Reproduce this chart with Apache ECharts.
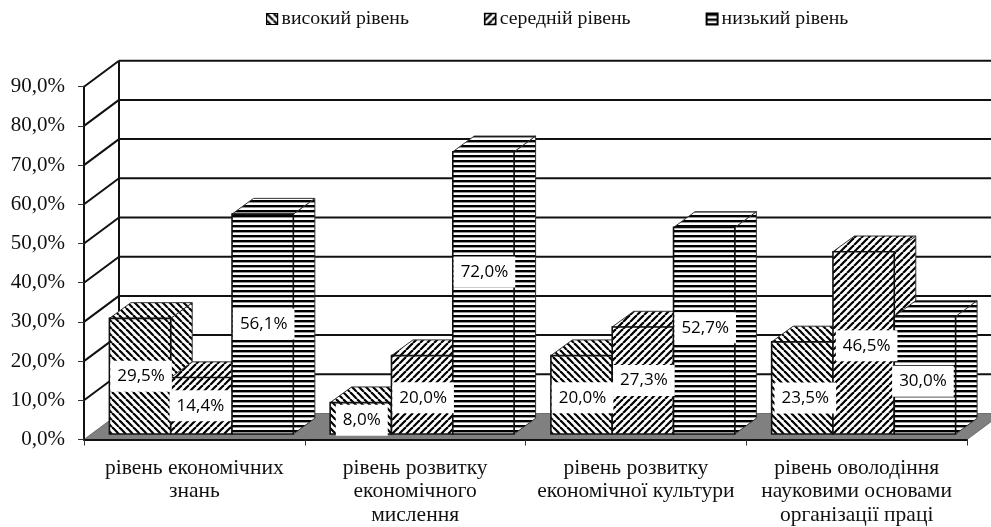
<!DOCTYPE html>
<html>
<head>
<meta charset="utf-8">
<style>html,body{margin:0;padding:0;background:#fff}#c{width:991px;height:527px}</style>
<script src="https://cdn.jsdelivr.net/npm/echarts@6/dist/echarts.min.js"></script>
</head>
<body>
<div id="c"></div>
<script>
var categories = ['рівень економічних\nзнань', 'рівень розвитку\nекономічного\nмислення', 'рівень розвитку\nекономічної культури', 'рівень оволодіння\nнауковими основами\nорганізації праці'];
var seriesNames = ['високий рівень', 'середній рівень', 'низький рівень'];
var highLevel = [29.5, 8.0, 20.0, 23.5];
var midLevel = [14.4, 20.0, 27.3, 46.5];
var lowLevel = [56.1, 72.0, 52.7, 30.0];
var yTicks = [0, 10, 20, 30, 40, 50, 60, 70, 80, 90];

// label nudges in pixels, relative to the centre of each bar's front face
var labelNudgeX = [[1, 1, 1, 3], [-1, 1, 1, 3], [1, 1, 1, -2]];
var labelNudgeY = [[0, 2, 3, 10], [0, 3, 0, 3], [0, -21, -3, 6]];

var WALL_DX = 35, WALL_DY = -26, BAR_DX = 7.4, BAR_DY = -5.5, DEPTH_DX = 21.5, DEPTH_DY = -15.7;
var GAP = 18 / 220.7, BAR_W = 61.3 / 220.7;

function tile(w, h, draw) {
  var c = document.createElement('canvas');
  c.width = w; c.height = h;
  var x = c.getContext('2d');
  x.fillStyle = '#fff'; x.fillRect(0, 0, w, h);
  x.strokeStyle = '#000'; x.fillStyle = '#000';
  draw(x);
  return { image: c, repeat: 'repeat' };
}
function diag(x, dir) {
  x.lineWidth = 2.2;
  for (var k = -7; k <= 14; k += 7) {
    x.beginPath();
    if (dir > 0) { x.moveTo(k, 7); x.lineTo(k + 7, 0); }
    else { x.moveTo(k, 0); x.lineTo(k + 7, 7); }
    x.stroke();
  }
}
var patterns = [
  tile(7, 7, function (x) { diag(x, -1); }),
  tile(7, 7, function (x) { diag(x, 1); }),
  tile(2, 5, function (x) { x.fillRect(0, 0, 2, 2.4); })
];
var LINE = '#111';

function wallItem(params, api) {
  var v = api.value(1);
  var left = api.coord([0, v]);
  var size = api.size([1, 0])[0];
  var x0 = left[0] - size / 2, y = left[1];
  var xEnd = x0 + size * categories.length;
  var kids = [];
  if (v === 0) {
    kids.push({ type: 'polygon', shape: { points: [[x0, y], [xEnd, y], [xEnd + WALL_DX, y + WALL_DY], [x0 + WALL_DX, y + WALL_DY]] },
      style: { fill: '#808080', stroke: '#6e6e6e', lineWidth: 1 } });
  } else {
    kids.push({ type: 'line', shape: { x1: x0, y1: y, x2: x0 + WALL_DX, y2: y + WALL_DY }, style: { stroke: LINE, lineWidth: 2 } });
    kids.push({ type: 'line', shape: { x1: x0 + WALL_DX, y1: y + WALL_DY, x2: xEnd + WALL_DX, y2: y + WALL_DY }, style: { stroke: LINE, lineWidth: 2 } });
  }
  if (v === yTicks[yTicks.length - 1]) {
    var base = api.coord([0, 0])[1];
    kids.push({ type: 'line', shape: { x1: x0 + WALL_DX, y1: y + WALL_DY, x2: x0 + WALL_DX, y2: base + WALL_DY }, style: { stroke: LINE, lineWidth: 2 } });
  }
  return { type: 'group', children: kids };
}

function barGeom(api, j) {
  var i = api.value(0), v = api.value(1);
  var top = api.coord([i, v]), bottom = api.coord([i, 0]);
  var size = api.size([1, 0])[0];
  var w = size * BAR_W;
  var x = top[0] - size / 2 + size * GAP + BAR_DX + j * w;
  return { i: i, x: x, w: w, yt: top[1] + BAR_DY, yb: bottom[1] + BAR_DY };
}

function makeBar(j) {
  return function (params, api) {
    var g = barGeom(api, j);
    var thin = { fill: patterns[j], stroke: '#333', lineWidth: 1, lineJoin: 'miter' };
    var st = { fill: patterns[j], stroke: LINE, lineWidth: 1.6, lineJoin: 'miter' };
    return { type: 'group', children: [
      { type: 'polygon', shape: { points: [[g.x + g.w, g.yt], [g.x + g.w + DEPTH_DX, g.yt + DEPTH_DY], [g.x + g.w + DEPTH_DX, g.yb + DEPTH_DY], [g.x + g.w, g.yb]] }, style: thin },
      { type: 'polygon', shape: { points: [[g.x, g.yt], [g.x + DEPTH_DX, g.yt + DEPTH_DY], [g.x + g.w + DEPTH_DX, g.yt + DEPTH_DY], [g.x + g.w, g.yt]] }, style: thin },
      { type: 'rect', shape: { x: g.x, y: g.yt, width: g.w, height: g.yb - g.yt }, style: st }
    ] };
  };
}

function makeLabel(j) {
  return function (params, api) {
    var g = barGeom(api, j);
    var txt = api.value(1).toFixed(1).replace('.', ',') + '%';
    return { type: 'text', x: g.x + g.w / 2 + labelNudgeX[j][g.i], y: (g.yt + g.yb) / 2 + labelNudgeY[j][g.i],
      style: { text: txt, font: '17px "Open Sans"', fill: '#000', align: 'center', verticalAlign: 'middle',
        backgroundColor: '#fff', padding: [7, 7, 7, 7] } };
  };
}

function rows(arr) { return arr.map(function (v, i) { return [i, v]; }); }
var values = [highLevel, midLevel, lowLevel];
var series = [{ type: 'custom', z: 1, silent: true, clip: false, renderItem: wallItem,
  encode: { x: 0, y: 1 }, data: yTicks.map(function (t) { return [0, t]; }) }];
values.forEach(function (arr, j) {
  series.push({ type: 'custom', name: seriesNames[j], z: 2 + j, silent: true, clip: false, renderItem: makeBar(j),
    encode: { x: 0, y: 1 }, itemStyle: { color: patterns[j], borderColor: '#000', borderWidth: 1 }, data: rows(arr) });
});
values.forEach(function (arr, j) {
  series.push({ type: 'custom', z: 6 + j, silent: true, clip: false, renderItem: makeLabel(j),
    encode: { x: 0, y: 1 }, data: rows(arr) });
});

var legendBorder = [1.2, 1.6, 2];
var chart = echarts.init(document.getElementById('c'), null, { renderer: 'canvas' });
chart.setOption({
  animation: false,
  backgroundColor: '#fff',
  textStyle: { fontFamily: '"Liberation Serif"' },
  legend: {
    left: 261, top: 4, itemWidth: 11, itemHeight: 11, itemGap: 75, selectedMode: false,
    textStyle: { fontFamily: '"Liberation Serif"', fontSize: 19.8, color: '#111', padding: [0, 0, 0, -1] },
    data: seriesNames.map(function (n, j) {
      return { name: n, icon: 'rect', itemStyle: { color: patterns[j], borderColor: '#000', borderWidth: legendBorder[j] } };
    })
  },
  grid: { left: 84, right: 24, top: 86.7, bottom: 87.5 },
  xAxis: {
    type: 'category', data: categories, boundaryGap: true, z: 9,
    axisLine: { onZero: false, lineStyle: { color: LINE, width: 2 } },
    axisTick: { show: true, length: 6, lineStyle: { color: '#333', width: 1 }, alignWithLabel: false },
    axisLabel: { interval: 0, margin: 17, fontFamily: '"Liberation Serif"', fontSize: 21.5, lineHeight: 23.5, color: '#111' }
  },
  yAxis: {
    type: 'value', min: 0, max: 90, interval: 10, z: 9,
    splitLine: { show: false },
    axisLine: { show: true, lineStyle: { color: LINE, width: 2 } },
    axisTick: { show: true, length: 6, lineStyle: { color: '#333', width: 1 } },
    axisLabel: { margin: 19, fontFamily: '"Liberation Serif"', fontSize: 21, color: '#111',
      formatter: function (v) { return v.toFixed(1).replace('.', ',') + '%'; } }
  },
  series: series
});
</script>
</body>
</html>
